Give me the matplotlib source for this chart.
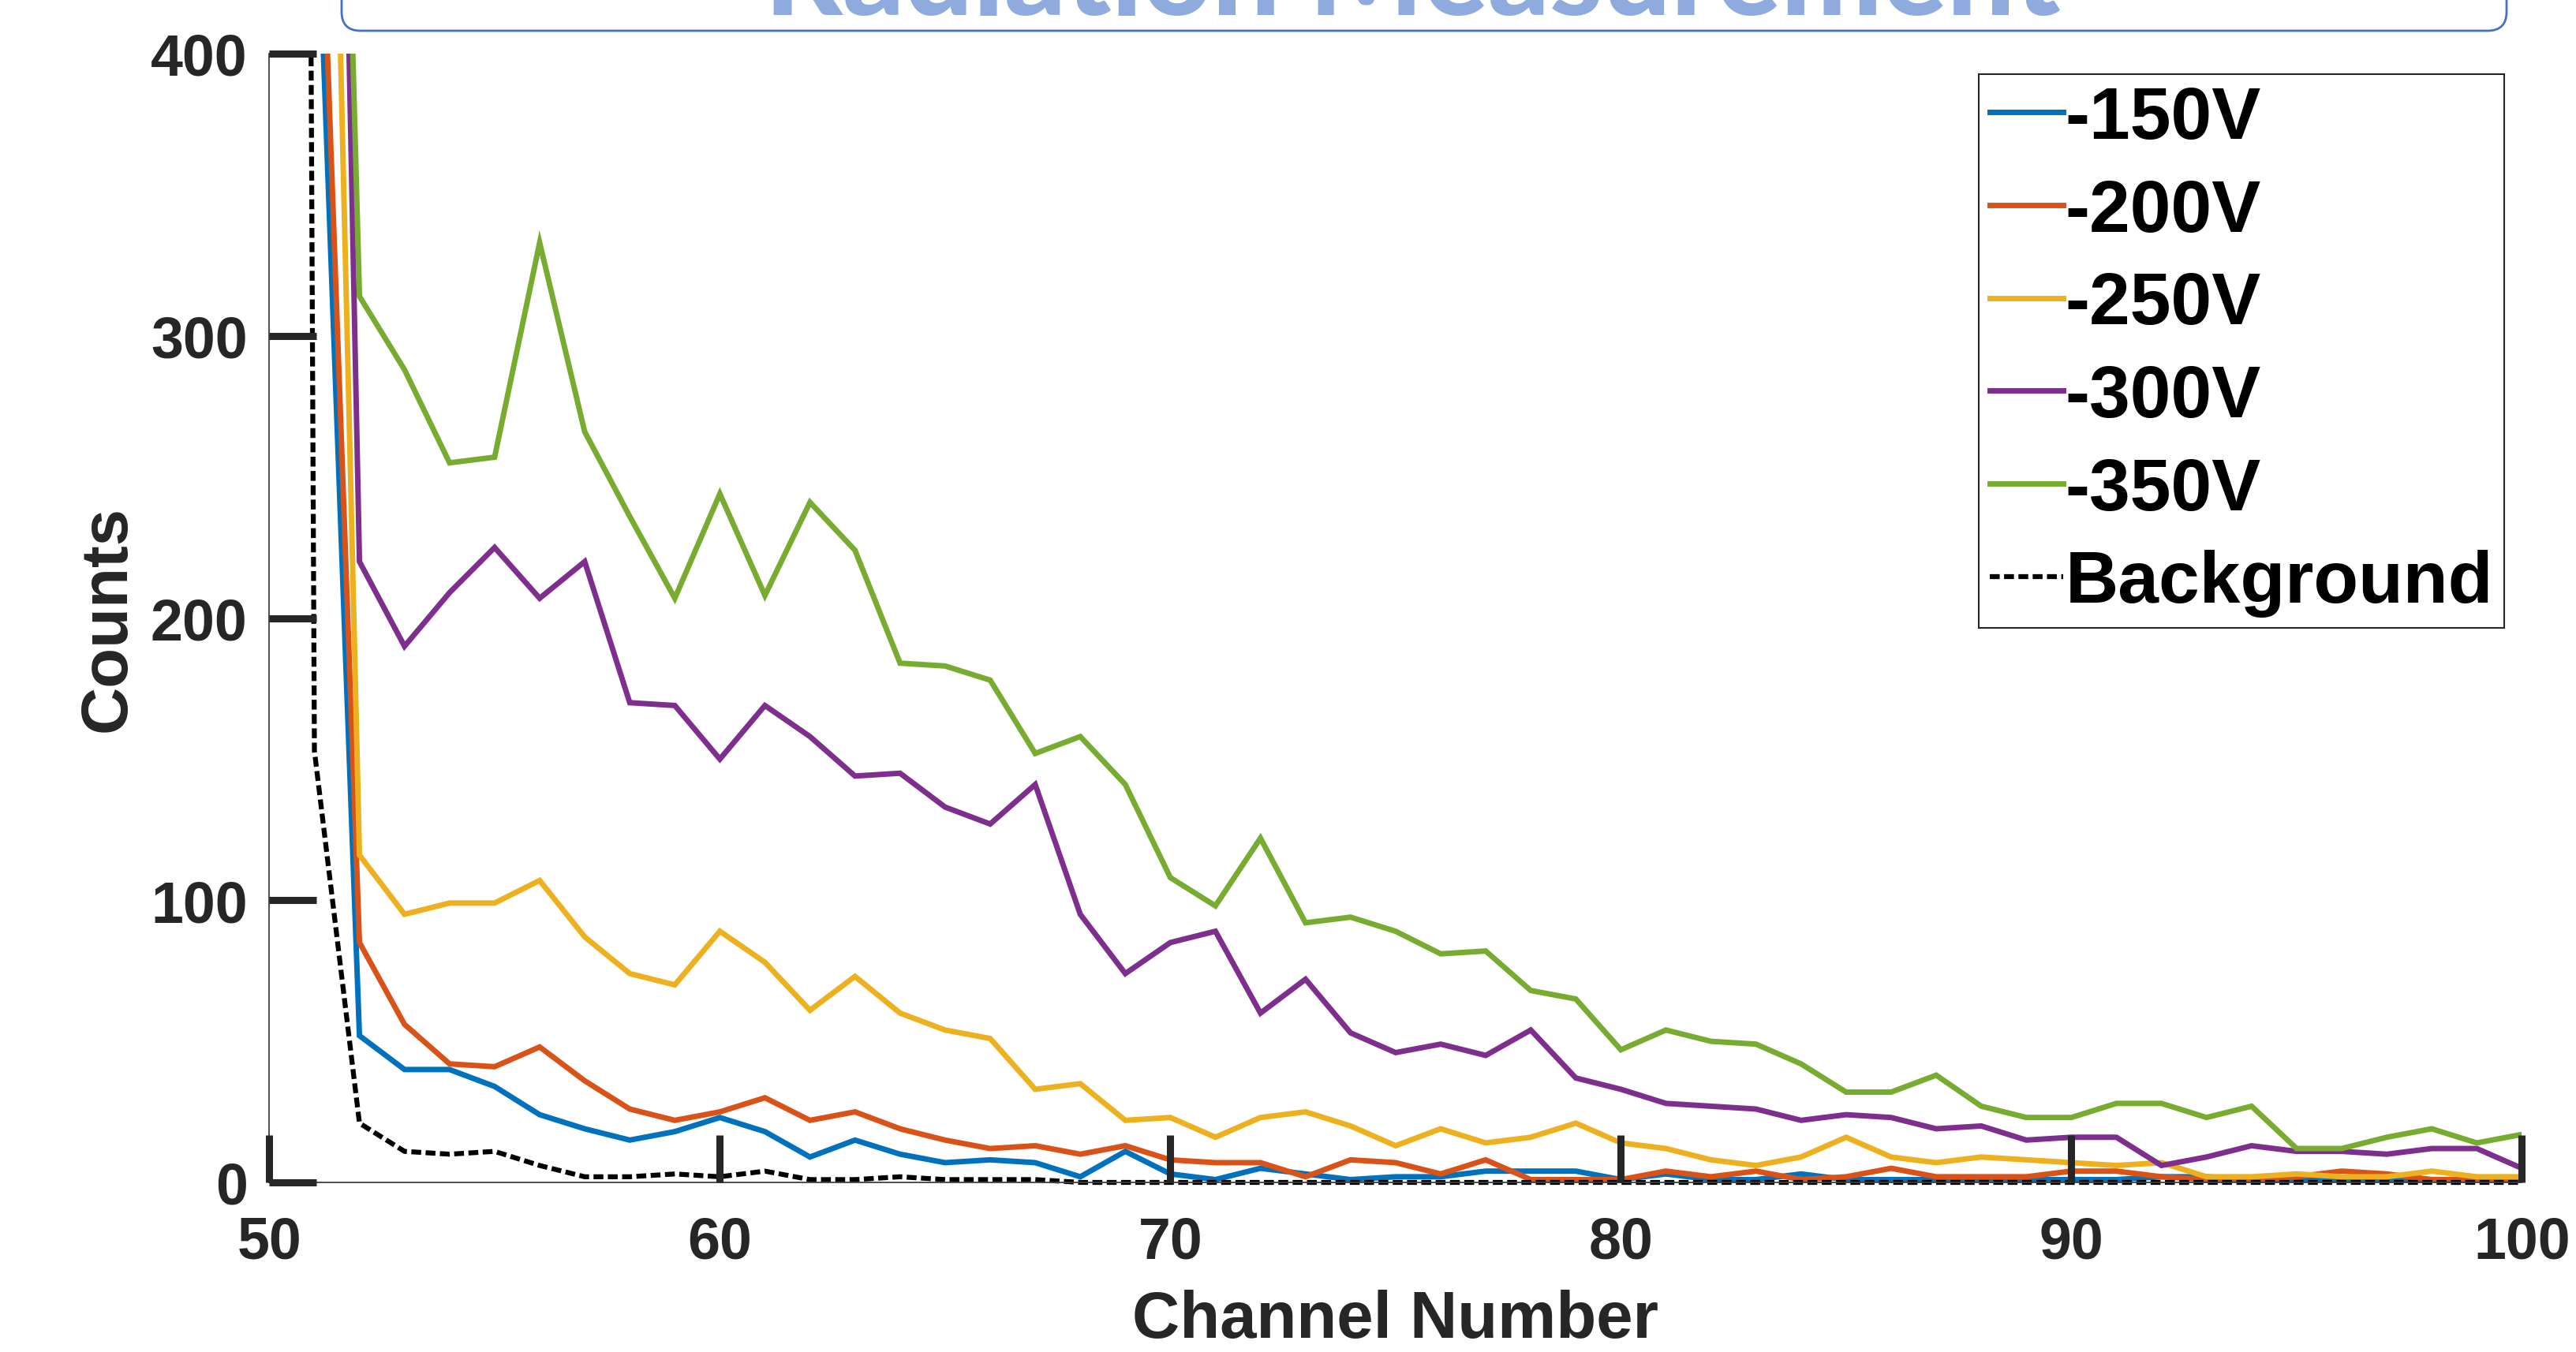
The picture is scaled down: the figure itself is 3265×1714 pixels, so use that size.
import matplotlib
matplotlib.use("Agg")
import matplotlib.pyplot as plt
from matplotlib.patches import FancyBboxPatch, Rectangle
from matplotlib.transforms import IdentityTransform

# channel axis for the biased runs (ch 50 is off-scale for all of them)
channels = list(range(51, 101))
bg_channels = list(range(50, 101))

counts_150v = [487, 52, 40, 40, 34, 24, 19, 15, 18, 23,
               18, 9, 15, 10, 7, 8, 7, 2, 11, 3,
               1, 5, 3, 1, 2, 2, 4, 4, 4, 1,
               3, 1, 1, 3, 1, 1, 1, 1, 1, 1,
               1, 2, 2, 1, 1, 1, 1, 1, 1, 1]
counts_200v = [529, 85, 56, 42, 41, 48, 36, 26, 22, 25,
               30, 22, 25, 19, 15, 12, 13, 10, 13, 8,
               7, 7, 2, 8, 7, 3, 8, 1, 1, 1,
               4, 2, 4, 1, 2, 5, 2, 2, 2, 4,
               4, 2, 1, 1, 2, 4, 3, 1, 1, 1]
counts_250v = [792, 116, 95, 99, 99, 107, 87, 74, 70, 89,
               78, 61, 73, 60, 54, 51, 33, 35, 22, 23,
               16, 23, 25, 20, 13, 19, 14, 16, 21, 14,
               12, 8, 6, 9, 16, 9, 7, 9, 8, 7,
               6, 7, 2, 2, 3, 2, 2, 4, 2, 2]
counts_300v = [1000, 220, 190, 209, 225, 207, 220, 170, 169, 150,
               169, 158, 144, 145, 133, 127, 141, 95, 74, 85,
               89, 60, 72, 53, 46, 49, 45, 54, 37, 33,
               28, 27, 26, 22, 24, 23, 19, 20, 15, 16,
               16, 6, 9, 13, 11, 11, 10, 12, 12, 5]
counts_350v = [900, 314, 288, 255, 257, 333, 266, 236, 207, 244,
               208, 241, 224, 184, 183, 178, 152, 158, 141, 108,
               98, 122, 92, 94, 89, 81, 82, 68, 65, 47,
               54, 50, 49, 42, 32, 32, 38, 27, 23, 23,
               28, 28, 23, 27, 12, 12, 16, 19, 14, 17]
background = [3500, 153, 21, 11, 10, 11, 6, 2, 2, 3,
              2, 4, 1, 1, 2, 1, 1, 1, 0, 0,
              0, 0, 0, 0, 0, 0, 0, 0, 0, 0,
              0, 0, 0, 0, 0, 0, 0, 0, 0, 0,
              0, 0, 0, 0, 0, 0, 0, 0, 0, 0,
              0]

series = [counts_150v, counts_200v, counts_250v, counts_300v, counts_350v]
series_labels = ["-150V", "-200V", "-250V", "-300V", "-350V"]
series_colors = ["#0072BD", "#D95319", "#EDB120", "#7E2F8E", "#77AC30"]

x_ticks = [50, 60, 70, 80, 90, 100]
y_ticks = [0, 100, 200, 300, 400]
title_text = "Radiation Measurement"

W, H, DPI = 3266, 1715, 100
INK = "#262626"

plt.rcParams["font.family"] = ["Liberation Sans", "DejaVu Sans"]
plt.rcParams["font.weight"] = "bold"
plt.rcParams["axes.labelweight"] = "bold"

fig = plt.figure(figsize=(W / DPI, H / DPI), dpi=DPI)
ax = fig.add_axes([341.4 / W, 1 - 1500 / H, (3196.4 - 341.4) / W, (1500 - 69) / H])


def clipped(line):
    # let lines sitting on zero show their full width below the axis
    line.set_clip_path(Rectangle((0, -0.01), 1, 1.01, transform=ax.transAxes))


for values, label, color in zip(series, series_labels, series_colors):
    (ln,) = ax.plot(channels, values, color=color, lw=5.0, label=label,
                    solid_joinstyle="miter")
    clipped(ln)

(bg,) = ax.plot(bg_channels, background, color="black", lw=4.5,
                linestyle=(0, (2.0, 0.9)), label="Background")
clipped(bg)

ax.set_xlim(50, 100)
ax.set_ylim(0, 400)
ax.set_xticks(x_ticks)
ax.set_yticks(y_ticks)
ax.set_axisbelow(False)

for side in ("top", "right"):
    ax.spines[side].set_visible(False)
for side in ("left", "bottom"):
    ax.spines[side].set_color("#404040")
    ax.spines[side].set_linewidth(1.3)

ax.tick_params(axis="both", direction="in", length=43, width=6.5,
               color=INK, labelsize=53, labelcolor=INK)
ax.tick_params(axis="x", pad=30)
ax.tick_params(axis="y", pad=20)

ax.set_xlabel("Channel Number", fontsize=60, color=INK)
ax.set_ylabel("Counts", fontsize=60, color=INK)
ax.xaxis.set_label_coords(0.5, -0.094)
ax.yaxis.set_label_coords(-0.0580, 0.5)

leg = ax.legend(loc="upper left",
                bbox_to_anchor=(2508 / W, 1 - 95 / H),
                bbox_transform=fig.transFigure,
                borderaxespad=0, fontsize=67, frameon=True, fancybox=False,
                framealpha=1, edgecolor=INK, borderpad=0.15,
                labelspacing=0.34, handlelength=1.0, handletextpad=0.03)
leg.get_frame().set_linewidth(1.5)
for txt in leg.get_texts():
    txt.set_color("black")

# title banner running off the top edge
banner = FancyBboxPatch((433, H - 40), 3177 - 433, 200,
                        boxstyle="round,pad=0,rounding_size=24",
                        transform=IdentityTransform(), facecolor="white",
                        edgecolor="#4472C4", lw=2.0, zorder=5)
fig.patches.append(banner)
title = fig.text(1790 / W, 1 - 19 / H, title_text, ha="center", va="baseline",
                 fontsize=100, fontfamily="Lato", fontweight="black",
                 color="#8FAADC", zorder=6)
fig.canvas.draw()
span = title.get_window_extent().width
title.set_fontsize(100 * 1642 / span)

fig.savefig("out.png", dpi=DPI)
